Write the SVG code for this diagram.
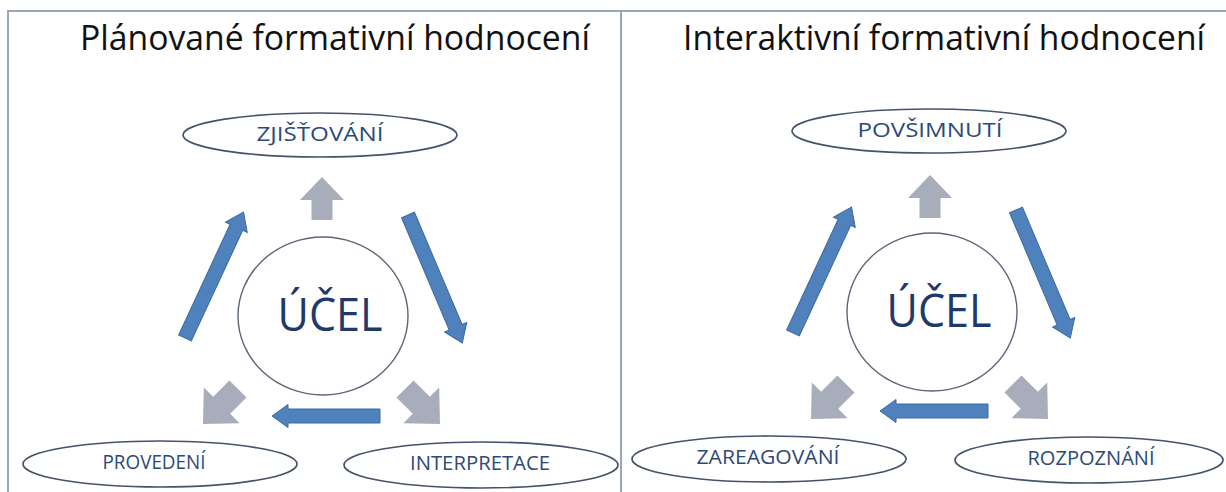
<svg xmlns="http://www.w3.org/2000/svg" xmlns:xlink="http://www.w3.org/1999/xlink" width="1226" height="492" viewBox="0 0 1226 492">
<style>
.frame{stroke:#9aa6ba;stroke-width:2;fill:none}
.title{font-family:"Open Sans","Liberation Sans",sans-serif;font-size:35px;fill:#111}
.node{fill:#fff;stroke:#44526c;stroke-width:1.7}
.core{fill:#fff;stroke:#5b6578;stroke-width:1.4}
.lbl{font-family:"Open Sans","Liberation Sans",sans-serif;font-size:20px;fill:#2c4a78;text-anchor:middle}
.big{font-family:"Open Sans","Liberation Sans",sans-serif;font-size:46px;fill:#1f3a68;text-anchor:middle}
.blue{fill:#4f81bd;stroke:#3c6a9f;stroke-width:1}
.gray{fill:#a8adbb}
</style>
<defs>
<path id="g" class="gray" d="M0,0 L22,23 L10.5,23 L10.5,43 L-10.5,43 L-10.5,23 L-22,23 Z"/>
<path id="bd" class="blue" d="M0,-7 L122,-7 L122,-12 L139,0 L122,12 L122,7 L0,7 Z"/>
<path id="bh" class="blue" d="M0,-7 L92,-7 L92,-11.5 L108,0 L92,11.5 L92,7 L0,7 Z"/>
</defs>
<g id="frame">
<line class="frame" x1="7" y1="11" x2="1226" y2="11"/>
<line class="frame" x1="8" y1="10" x2="8" y2="492"/>
<line class="frame" x1="621" y1="10" x2="621" y2="492"/>
</g>
<text id="title-left" class="title" x="80" y="50" textLength="510" lengthAdjust="spacingAndGlyphs">Plánované formativní hodnocení</text>
<text id="title-right" class="title" x="683" y="50" textLength="522" lengthAdjust="spacingAndGlyphs">Interaktivní formativní hodnocení</text>

<g id="connectors">
<use xlink:href="#g" transform="translate(322,177)"/>
<use xlink:href="#g" transform="translate(203,424) rotate(-135) scale(1.15)"/>
<use xlink:href="#g" transform="translate(440,424) rotate(135) scale(1.15)"/>
<use xlink:href="#bd" transform="translate(185,338) rotate(-65.1)"/>
<use xlink:href="#bd" transform="translate(408,215) rotate(67)"/>
<use xlink:href="#bh" transform="translate(380,416) rotate(180)"/>

<use xlink:href="#g" transform="translate(930,175)"/>
<use xlink:href="#g" transform="translate(811,419) rotate(-135) scale(1.15)"/>
<use xlink:href="#g" transform="translate(1048,419) rotate(135) scale(1.15)"/>
<use xlink:href="#bd" transform="translate(793,333) rotate(-65.1)"/>
<use xlink:href="#bd" transform="translate(1016,210) rotate(67)"/>
<use xlink:href="#bh" transform="translate(988,411) rotate(180)"/>
</g>

<g id="n-zjistovani"><ellipse class="node" cx="320" cy="135" rx="137" ry="22"/><text class="lbl" x="320" y="141" textLength="127" lengthAdjust="spacingAndGlyphs">ZJIŠŤOVÁNÍ</text></g>
<g id="n-ucel-left"><ellipse class="core" cx="323" cy="316" rx="85" ry="79"/><text class="big" x="330" y="331" textLength="105" lengthAdjust="spacingAndGlyphs">ÚČEL</text></g>
<g id="n-provedeni"><ellipse class="node" cx="160" cy="464" rx="137" ry="23"/><text class="lbl" x="154" y="469" textLength="103" lengthAdjust="spacingAndGlyphs">PROVEDENÍ</text></g>
<g id="n-interpretace"><ellipse class="node" cx="481" cy="465" rx="137" ry="23"/><text class="lbl" x="480" y="470" textLength="140" lengthAdjust="spacingAndGlyphs">INTERPRETACE</text></g>

<g id="n-povsimnuti"><ellipse class="node" cx="929" cy="131" rx="137" ry="22"/><text class="lbl" x="930" y="137" textLength="145" lengthAdjust="spacingAndGlyphs">POVŠIMNUTÍ</text></g>
<g id="n-ucel-right"><ellipse class="core" cx="932" cy="312" rx="85" ry="79"/><text class="big" x="939" y="327" textLength="105" lengthAdjust="spacingAndGlyphs">ÚČEL</text></g>
<g id="n-zareagovani"><ellipse class="node" cx="769" cy="459" rx="137" ry="23"/><text class="lbl" x="768" y="464" textLength="143" lengthAdjust="spacingAndGlyphs">ZAREAGOVÁNÍ</text></g>
<g id="n-rozpoznani"><ellipse class="node" cx="1089" cy="460" rx="134" ry="23"/><text class="lbl" x="1091" y="465" textLength="127" lengthAdjust="spacingAndGlyphs">ROZPOZNÁNÍ</text></g>
</svg>
